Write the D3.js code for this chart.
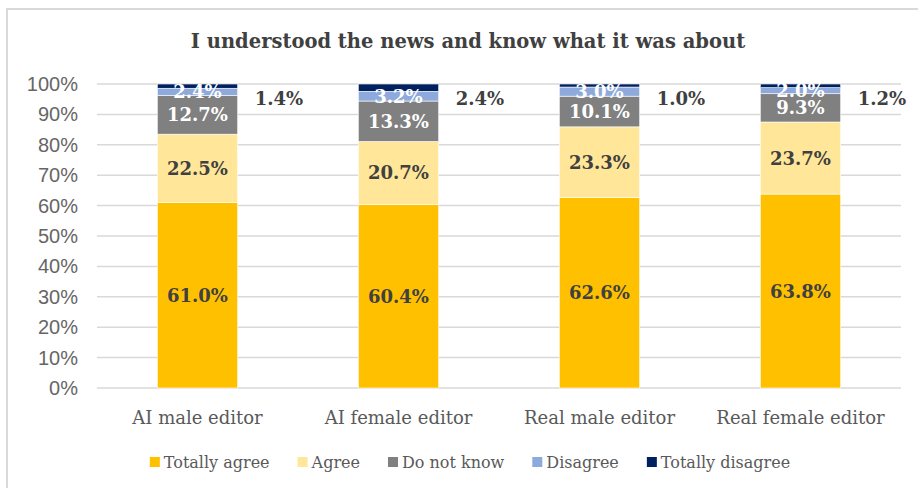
<!DOCTYPE html>
<html>
<head>
<meta charset="utf-8">
<script src="https://cdn.jsdelivr.net/npm/d3@7"></script>
<style>
  html, body { margin: 0; padding: 0; background: #fff; }
  svg { display: block; }
</style>
</head>
<body>
<div id="chart"></div>
<script>
// Survey answers per editor condition (percent of respondents)
const categories = ["AI male editor", "AI female editor", "Real male editor", "Real female editor"];
const seriesNames = ["Totally agree", "Agree", "Do not know", "Disagree", "Totally disagree"];
const totallyAgree    = [61.0, 60.4, 62.6, 63.8];
const agree           = [22.5, 20.7, 23.3, 23.7];
const doNotKnow       = [12.7, 13.3, 10.1, 9.3];
const disagree        = [2.4, 3.2, 3.0, 2.0];
const totallyDisagree = [1.4, 2.4, 1.0, 1.2];
const yTicks = [0, 10, 20, 30, 40, 50, 60, 70, 80, 90, 100];
const titleText = "I understood the news and know what it was about";

const colors = ["#FFC000", "#FFE699", "#808080", "#8EA9DB", "#002060"];
const labelColors = ["#404040", "#404040", "#ffffff", "#ffffff", "#404040"];

const W = 918, H = 488;
const margin = { top: 84, right: 17, bottom: 100, left: 97 };

const svg = d3.select("#chart").append("svg")
  .attr("width", W).attr("height", H);

// chart frame (top and left edges visible)
svg.append("path")
  .attr("d", `M7,${H} L7,9 L${W},9`)
  .attr("fill", "none").attr("stroke", "#d9d9d9").attr("stroke-width", 2);

const rows = categories.map((c, i) => {
  const r = { category: c };
  r[seriesNames[0]] = totallyAgree[i];
  r[seriesNames[1]] = agree[i];
  r[seriesNames[2]] = doNotKnow[i];
  r[seriesNames[3]] = disagree[i];
  r[seriesNames[4]] = totallyDisagree[i];
  return r;
});
const stacked = d3.stack().keys(seriesNames)(rows);

const x = d3.scaleBand().domain(categories)
  .range([margin.left, W - margin.right]).paddingInner(0.6).paddingOuter(0.3);
const y = d3.scaleLinear().domain([0, 100]).range([H - margin.bottom, margin.top]);

// gridlines
svg.append("g").selectAll("line").data(yTicks).join("line")
  .attr("x1", margin.left).attr("x2", W - margin.right)
  .attr("y1", d => y(d)).attr("y2", d => y(d))
  .attr("stroke", "#d9d9d9").attr("stroke-width", 1.5);

// y axis labels
const yAxis = d3.axisLeft(y).tickValues(yTicks).tickFormat(d => d + "%").tickSize(0).tickPadding(0);
const gy = svg.append("g").attr("transform", `translate(78,0)`).call(yAxis);
gy.select(".domain").remove();
gy.selectAll("text")
  .attr("font-family", "'Liberation Sans', Arial, sans-serif")
  .attr("font-size", 20).attr("fill", "#666666");

// bars
const layers = svg.append("g").selectAll("g").data(stacked).join("g")
  .attr("fill", (d, i) => colors[i]);
layers.selectAll("rect").data(d => d).join("rect")
  .attr("x", d => x(d.data.category))
  .attr("width", x.bandwidth())
  .attr("y", d => y(d[1]))
  .attr("height", d => y(d[0]) - y(d[1]))
  .attr("stroke", "#fff").attr("stroke-width", 0.6);

// value labels
const labelFont = "'DejaVu Serif', 'Liberation Serif', serif";
stacked.forEach((layer, si) => {
  const g = svg.append("g");
  layer.forEach(d => {
    const v = d[1] - d[0];
    const isTop = si === seriesNames.length - 1;
    g.append("text")
      .attr("x", isTop ? x(d.data.category) + x.bandwidth() + 17 : x(d.data.category) + x.bandwidth() / 2)
      .attr("y", isTop ? y(95.3) : y((d[0] + d[1]) / 2))
      .attr("text-anchor", isTop ? "start" : "middle")
      .attr("dominant-baseline", "central")
      .attr("font-family", labelFont).attr("font-weight", "bold")
      .attr("font-size", 18).attr("fill", labelColors[si])
      .text(v.toFixed(1) + "%");
  });
});

// category labels
const xAxis = d3.axisBottom(x).tickSize(0).tickPadding(0);
const gx = svg.append("g").attr("transform", `translate(0,${H - margin.bottom + 36})`).call(xAxis);
gx.select(".domain").remove();
gx.selectAll("text")
  .attr("font-family", labelFont).attr("font-size", 18).attr("fill", "#595959")
  .attr("dy", "0");

// title
svg.append("text")
  .attr("x", 468).attr("y", 48).attr("text-anchor", "middle")
  .attr("font-family", "'DejaVu Serif', serif")
  .attr("font-weight", "bold").attr("font-size", 19.5).attr("fill", "#404040")
  .text(titleText);

// legend
const legend = svg.append("g");
let lx = 0;
seriesNames.forEach((name, i) => {
  const it = legend.append("g");
  it.append("rect").attr("x", 0).attr("y", -11).attr("width", 10).attr("height", 10).attr("fill", colors[i]);
  const t = it.append("text").attr("x", 14).attr("y", 0)
    .attr("font-family", labelFont).attr("font-size", 16).attr("fill", "#595959").text(name);
  const w = 14 + t.node().getComputedTextLength();
  it.attr("transform", `translate(${lx},0)`);
  lx += w + 28;
});
const legendWidth = lx - 28;
legend.attr("transform", `translate(${470 - legendWidth / 2},468)`);
</script>
</body>
</html>
